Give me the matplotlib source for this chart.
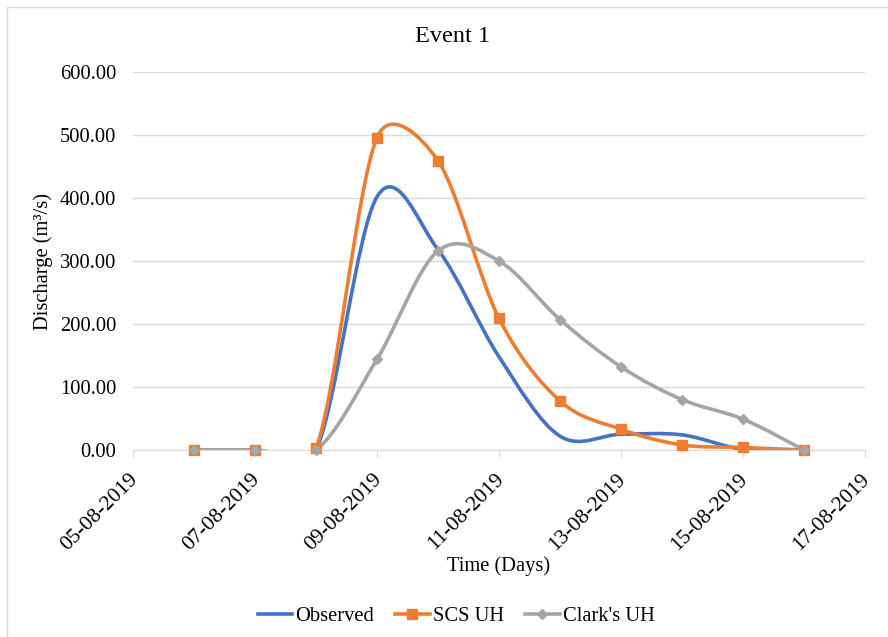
import numpy as np
import matplotlib
matplotlib.use("Agg")
import matplotlib.pyplot as plt
import matplotlib.dates as mdates
from matplotlib.path import Path
from matplotlib.patches import PathPatch, Rectangle
from matplotlib.lines import Line2D
from matplotlib.transforms import ScaledTranslation
from datetime import datetime

# data
dates = ["06-08-2019", "07-08-2019", "08-08-2019", "09-08-2019", "10-08-2019", "11-08-2019",
         "12-08-2019", "13-08-2019", "14-08-2019", "15-08-2019", "16-08-2019"]
observed = [0, 0, 0, 402, 318, 148, 22, 25, 24, 1, 0]
scs_uh = [0, 0, 2.7, 496, 459, 209, 78, 33, 8, 4, 0]
clark_uh = [0, 0, 0, 144, 316, 300, 207, 132, 80, 49, 0]

names = ["Observed", "SCS UH", "Clark's UH"]
colors = ["#4472C4", "#ED7D31", "#A5A5A5"]
markers = [None, "s", "D"]
msizes = [0, 7.5, 5.5]

plt.rcParams["font.family"] = ["Liberation Serif", "DejaVu Serif"]
plt.rcParams["font.size"] = 14.8

W, H = 888, 637
fig = plt.figure(figsize=(W / 100, H / 100), dpi=100)
ax = fig.add_axes([133 / W, 1 - 450 / H, (865 - 133) / W, (450 - 72) / H])

x = mdates.date2num([datetime.strptime(d, "%d-%m-%Y") for d in dates])
ax.set_xlim(mdates.date2num(datetime(2019, 8, 5)), mdates.date2num(datetime(2019, 8, 17)))
ax.set_ylim(0, 600)


def excel_smooth(xs, ys):
    # Excel-style smoothed line: bezier segments, arms limited to half the segment
    pts = ax.transData.transform(np.column_stack([xs, ys]))
    n = len(pts)
    verts = [pts[0]]
    codes = [Path.MOVETO]
    for i in range(n - 1):
        p0 = pts[i - 1] if i > 0 else pts[i]
        p1 = pts[i]
        p2 = pts[i + 1]
        p3 = pts[i + 2] if i + 2 < n else pts[i + 1]
        d12 = np.hypot(*(p2 - p1))
        d02 = np.hypot(*(p2 - p0))
        d13 = np.hypot(*(p3 - p1))
        f1 = 1 / 6 if d02 / 6 < d12 / 2 else (d12 / 2) / d02 if d02 > 0 else 0
        f2 = 1 / 6 if d13 / 6 < d12 / 2 else (d12 / 2) / d13 if d13 > 0 else 0
        c1 = p1 + (p2 - p0) * f1
        c2 = p2 - (p3 - p1) * f2
        verts += [c1, c2, p2]
        codes += [Path.CURVE4] * 3
    verts = ax.transData.inverted().transform(np.array(verts))
    return Path(verts, codes)


for ys, c, m, ms in zip([observed, scs_uh, clark_uh], colors, markers, msizes):
    ax.add_patch(PathPatch(excel_smooth(x, ys), fill=False, edgecolor=c, lw=2.6,
                           capstyle="round", joinstyle="round"))
    if m:
        ax.plot(x, ys, linestyle="none", marker=m, markersize=ms, color=c, clip_on=False, zorder=3)

ax.xaxis.set_major_locator(mdates.DayLocator(interval=2))
ax.xaxis.set_major_formatter(mdates.DateFormatter("%d-%m-%Y"))
ax.set_yticks(np.arange(0, 601, 100))
ax.yaxis.set_major_formatter(matplotlib.ticker.FormatStrFormatter("%.2f"))

ax.grid(axis="y", color="#D9D9D9", lw=1)
ax.set_axisbelow(True)
for s in ["top", "right", "left"]:
    ax.spines[s].set_visible(False)
ax.spines["bottom"].set_color("#D9D9D9")
ax.tick_params(axis="y", length=0, pad=12)
ax.tick_params(axis="x", length=5, color="#D9D9D9", pad=14, labelsize=15.5)
shift = ScaledTranslation(2 / 100, 0, fig.dpi_scale_trans)
for lbl in ax.get_xticklabels():
    lbl.set_rotation(45)
    lbl.set_ha("right")
    lbl.set_va("center")
    lbl.set_rotation_mode("anchor")
    lbl.set_transform(lbl.get_transform() + shift)

fig.text(453 / W, 1 - 37 / H, "Event 1", ha="center", va="center", fontsize=17.5)
fig.text(43 / W, 1 - 261 / H, "Discharge (m³/s)", rotation=90, ha="center", va="center")
fig.text(499 / W, 1 - 566 / H, "Time (Days)", ha="center", va="center")

handles = [Line2D([], [], color=c, lw=2.6, marker=m, markersize=ms)
           for c, m, ms in zip(colors, markers, msizes)]
fig.legend(handles, names, loc="center", bbox_to_anchor=(456 / W, 1 - 616 / H), ncol=3,
           frameon=False, handlelength=1.7, handletextpad=0.15, columnspacing=1.0,
           borderpad=0, borderaxespad=0)

fig.add_artist(Rectangle((7 / W, -0.1), 1.2, 1.1 - 7 / H, transform=fig.transFigure,
                         fill=False, edgecolor="#D9D9D9", lw=1))

fig.savefig("out.png", dpi=100)
